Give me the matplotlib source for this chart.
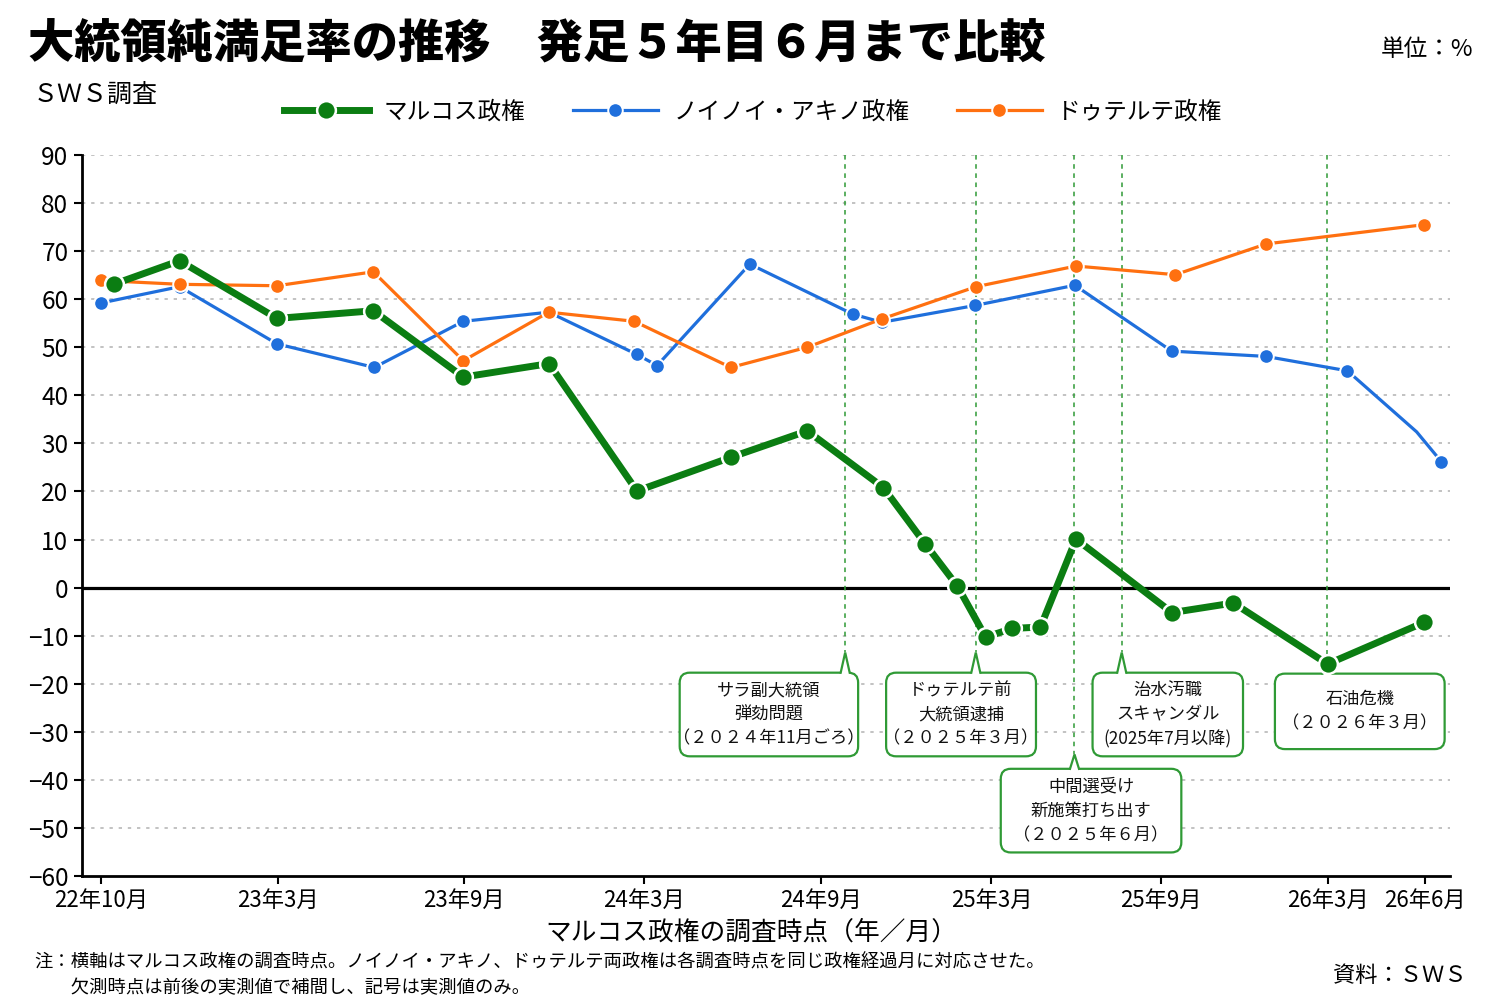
import matplotlib
matplotlib.use('Agg')
import matplotlib.pyplot as plt
from matplotlib.patches import FancyBboxPatch, Polygon
from matplotlib.lines import Line2D

plt.rcParams['font.family'] = ['Noto Sans CJK JP', 'DejaVu Sans']
plt.rcParams['axes.unicode_minus'] = True

# ---------------- data (x = position on survey timeline, months after Oct 2022) ----------------
marcos_x = [0.43, 2.62, 5.86, 9.06, 12.05, 14.9, 17.82, 20.94, 23.48, 26.01,
            27.40, 28.47, 29.41, 30.29, 31.23, 32.41, 35.6, 37.64, 40.77, 43.99]
marcos_y = [63.1, 68.0, 56.0, 57.6, 43.8, 46.6, 20.1, 27.1, 32.6, 20.8,
            9.1, 0.3, -10.3, -8.5, -8.2, 10.1, -5.2, -3.2, -15.9, -7.2]

aquino_x = [0, 2.62, 5.86, 9.09, 12.05, 14.89, 17.82, 18.49, 21.57, 24.99,
            25.96, 29.06, 32.37, 35.59, 38.72, 41.43, 43.73, 44.55]
aquino_y = [59.2, 62.6, 50.7, 45.8, 55.4, 57.3, 48.5, 46.2, 67.3, 56.9,
            55.2, 58.7, 62.9, 49.2, 48.1, 45.1, 32.4, 26.2]
aquino_measured = [True] * 16 + [False, True]

duterte_x = [0, 2.62, 5.86, 9.06, 12.05, 14.89, 17.73, 20.94, 23.48, 25.96,
             29.09, 32.41, 35.71, 38.73, 43.97]
duterte_y = [63.9, 63.1, 62.8, 65.7, 47.2, 57.3, 55.4, 45.8, 50.0, 55.9,
             62.6, 66.9, 65.1, 71.5, 75.5]

tick_pos = [0, 5.90, 12.08, 18.04, 23.95, 29.6, 35.24, 40.77, 44.0]
tick_labels = ['22年10月', '23年3月', '23年9月', '24年3月', '24年9月',
               '25年3月', '25年9月', '26年3月', '26年6月']

series_names = ['マルコス政権', 'ノイノイ・アキノ政権', 'ドゥテルテ政権']

event_x = [24.74, 29.08, 32.36, 33.93, 40.75]
event_text = ['サラ副大統領\n弾劾問題\n（２０２４年11月ごろ）',
              'ドゥテルテ前\n大統領逮捕\n（２０２５年３月）',
              '中間選受け\n新施策打ち出す\n（２０２５年６月）',
              '治水汚職\nスキャンダル\n(2025年7月以降)',
              '石油危機\n（２０２６年３月）']
box_x0 = [19.24, 26.10, 29.91, 32.96, 39.02]
box_x1 = [25.17, 31.08, 35.91, 37.96, 44.66]
box_top = [-17.7, -17.7, -37.7, -17.7, -17.9]
box_bottom = [-35.1, -35.1, -55.1, -35.1, -33.6]
tip_y = [-13.5, -13.5, -34.7, -13.5, -14.0]

# ---------------- styles ----------------
GREEN = '#0b7d12'
BLUE = '#1f6fdc'
ORANGE = '#ff7010'
EVT = '#2f9a35'

fig = plt.figure(figsize=(15, 10), dpi=100)
ax = fig.add_axes([0.0549, 0.124, 0.912, 0.721])
xmin, xmax = -0.61, 44.85
ymin, ymax = -60, 90
ax.set_xlim(xmin, xmax)
ax.set_ylim(ymin, ymax)

# grid
for v in range(-50, 91, 10):
    if v == 0:
        continue
    ax.axhline(v, color='#b8b8b8', lw=1.2, ls=(0, (2, 3.5)), zorder=0)
ax.axhline(0, color='black', lw=2.3, zorder=1)

# event lines
for ex, ty in zip(event_x, tip_y):
    ax.plot([ex, ex], [ymax, ty], color=EVT, lw=1.1, ls=(0, (3, 3)), zorder=1)

# series
ax.plot(aquino_x, aquino_y, color=BLUE, lw=2.3, zorder=3, solid_capstyle='round')
ax.plot([x for x, m in zip(aquino_x, aquino_measured) if m],
        [y for y, m in zip(aquino_y, aquino_measured) if m],
        ls='none', marker='o', ms=10.5, mfc=BLUE, mec='white', mew=1.4,
        zorder=3.1, clip_on=False)
ax.plot(duterte_x, duterte_y, color=ORANGE, lw=2.3, marker='o', ms=10.5,
        mfc=ORANGE, mec='white', mew=1.4, zorder=4, clip_on=False)
ax.plot(marcos_x, marcos_y, color=GREEN, lw=5.0, marker='o', ms=13.5,
        mfc=GREEN, mec='white', mew=1.8, zorder=6, clip_on=False)

# annotation boxes
px_x = ax.bbox.width / (xmax - xmin)
px_y = ax.bbox.height / (ymax - ymin)
aspect = px_x / px_y
r = 10 / px_x
hw = 4.5 / px_x
for i in range(len(event_x)):
    x0, x1, yb, yt = box_x0[i], box_x1[i], box_bottom[i], box_top[i]
    box = FancyBboxPatch((x0, yb), x1 - x0, yt - yb,
                         boxstyle=f'round,pad=0,rounding_size={r}',
                         mutation_aspect=aspect, fc='white', ec=EVT, lw=1.6,
                         zorder=5)
    ax.add_patch(box)
    ex = event_x[i]
    tri = Polygon([(ex - hw, yt - 0.4), (ex, tip_y[i]), (ex + hw, yt - 0.4)],
                  closed=True, fc='white', ec='none', zorder=5.1)
    ax.add_patch(tri)
    ax.plot([ex - hw, ex, ex + hw], [yt, tip_y[i], yt], color=EVT, lw=1.6,
            zorder=5.2, solid_joinstyle='miter')
    ax.text((x0 + x1) / 2, (yb + yt) / 2, event_text[i], ha='center',
            va='center', fontsize=12.4, linespacing=1.45, color='#111111',
            zorder=5.3)

# axes styling
for s in ['top', 'right']:
    ax.spines[s].set_visible(False)
ax.spines['left'].set_linewidth(2.0)
ax.spines['bottom'].set_linewidth(2.0)
ax.set_yticks(range(-60, 91, 10))
ax.set_xticks(tick_pos)
ax.set_xticklabels(tick_labels)
ax.tick_params(axis='both', width=1.5, length=6, color='black', direction='out')
ax.tick_params(axis='x', pad=3, labelsize=16)
ax.tick_params(axis='y', pad=4, labelsize=17.5)
fig.text(0.5007, 0.067, 'マルコス政権の調査時点（年／月）', fontsize=18.5,
         ha='center', va='center')

# legend
handles = [
    Line2D([], [], color=GREEN, lw=5.0, marker='o', ms=13.5, mfc=GREEN, mec='white', mew=1.8),
    Line2D([], [], color=BLUE, lw=2.3, marker='o', ms=10.5, mfc=BLUE, mec='white', mew=1.4),
    Line2D([], [], color=ORANGE, lw=2.3, marker='o', ms=10.5, mfc=ORANGE, mec='white', mew=1.4),
]
fig.legend(handles, series_names, loc='center', bbox_to_anchor=(0.502, 0.888),
           ncol=3, frameon=False, fontsize=17, handlelength=3.6,
           handletextpad=0.65, columnspacing=2.0)

# texts
fig.text(0.019, 0.955, '大統領純満足率の推移　発足５年目６月まで比較',
         fontsize=33.3, fontweight=900, va='center', ha='left')
fig.text(0.022, 0.905, 'ＳＷＳ調査', fontsize=18, va='center', ha='left')
fig.text(0.982, 0.95, '単位：%', fontsize=17, va='center', ha='right')
fig.text(0.023, 0.037, '注：横軸はマルコス政権の調査時点。ノイノイ・アキノ、ドゥテルテ両政権は各調査時点を同じ政権経過月に対応させた。',
         fontsize=13.2, va='center', ha='left')
fig.text(0.023, 0.012, '　　欠測時点は前後の実測値で補間し、記号は実測値のみ。',
         fontsize=13.2, va='center', ha='left')
fig.text(0.978, 0.025, '資料：ＳＷＳ', fontsize=16, va='center', ha='right')

fig.savefig('out.png', dpi=100)
